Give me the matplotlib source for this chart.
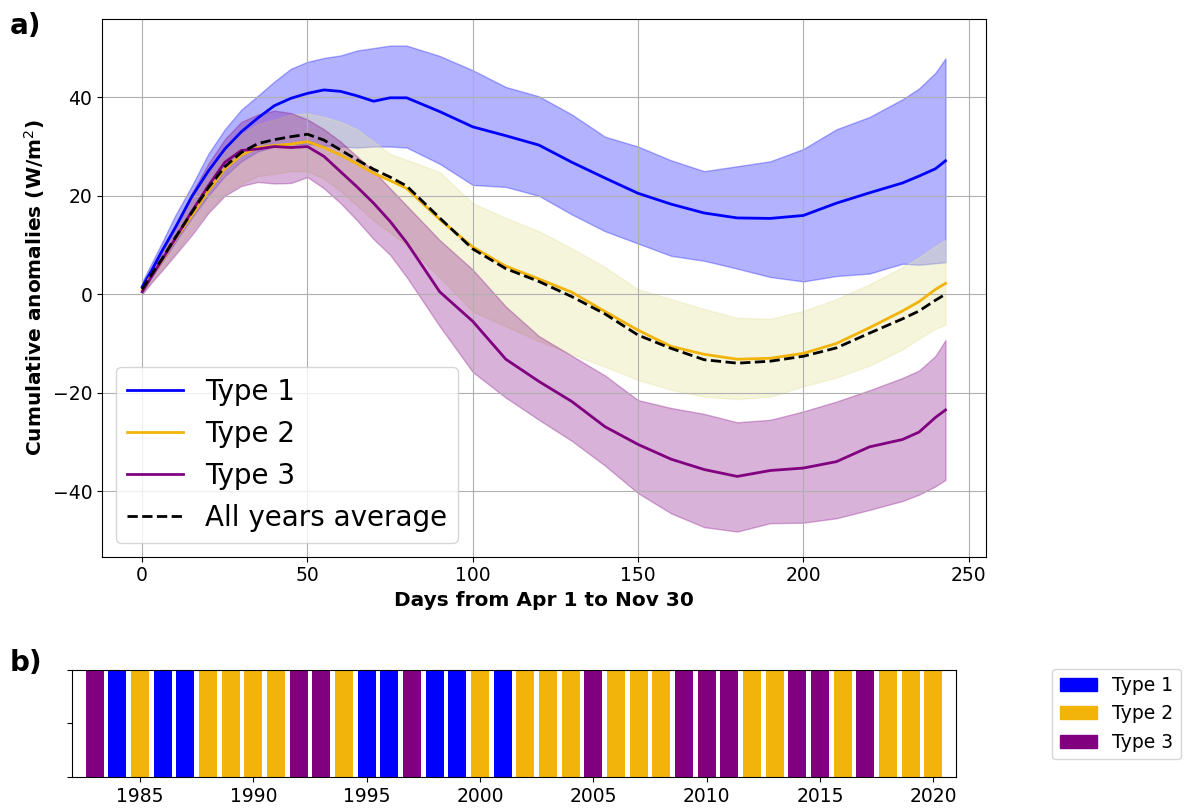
import matplotlib
matplotlib.use('Agg')
import matplotlib.pyplot as plt
from matplotlib.patches import Patch

# sampled days (Apr 1 = day 0)
days = [0, 3, 6, 10, 15, 20, 25, 30, 35, 40, 45, 50, 55, 60, 65, 70, 75, 80, 90, 100,
        110, 120, 130, 140, 150, 160, 170, 180, 190, 200, 210, 220, 230, 235, 240, 243]

type1 = [1.5, 5.0, 8.8, 13.5, 19.8, 25.0, 29.5, 33.0, 35.8, 38.3, 39.8, 40.8, 41.5, 41.2, 40.3, 39.2, 39.9, 39.9, 37.1, 34.0,
         32.2, 30.3, 26.8, 23.6, 20.5, 18.3, 16.5, 15.5, 15.4, 16.0, 18.5, 20.6, 22.6, 24.0, 25.5, 27.1]
type1_hi = [2.5, 6.5, 10.5, 16.0, 22.0, 28.5, 33.5, 37.5, 40.3, 43.2, 45.8, 47.2, 48.0, 48.5, 49.5, 50.0, 50.5, 50.5, 48.4, 45.5,
            42.1, 40.2, 36.5, 32.0, 30.0, 27.2, 25.0, 26.0, 27.0, 29.5, 33.5, 36.0, 39.6, 41.8, 45.0, 47.9]
type1_lo = [0.5, 3.5, 6.5, 10.5, 15.5, 20.0, 24.0, 27.0, 29.0, 30.0, 30.5, 30.5, 30.2, 30.0, 29.8, 30.0, 30.0, 29.8, 26.5, 22.2,
            21.8, 20.0, 16.2, 12.8, 10.3, 7.8, 6.8, 5.2, 3.5, 2.6, 3.7, 4.2, 6.2, 6.0, 6.3, 6.5]

type2 = [0.9, 4.0, 6.8, 11.2, 16.0, 21.0, 25.5, 28.3, 29.8, 30.2, 30.5, 31.0, 29.8, 28.3, 26.5, 24.6, 23.1, 21.5, 15.2, 9.6,
         5.7, 3.1, 0.4, -3.5, -7.3, -10.6, -12.2, -13.2, -13.0, -12.0, -10.0, -6.8, -3.4, -1.5, 1.0, 2.2]
type2_hi = [1.8, 5.5, 8.8, 13.5, 19.5, 25.0, 29.5, 32.5, 34.5, 35.5, 36.5, 36.7, 36.0, 35.0, 33.5, 31.0, 28.5, 27.3, 24.8, 18.5,
            15.5, 12.8, 9.3, 5.5, 1.0, -1.0, -3.0, -4.8, -5.0, -3.4, -1.0, 2.0, 5.5, 7.5, 9.8, 11.0]
type2_lo = [0.2, 2.8, 5.3, 8.5, 12.8, 17.0, 20.5, 22.5, 24.0, 24.5, 25.0, 25.0, 23.5, 21.0, 18.0, 15.0, 12.5, 10.0, 3.5, -3.5,
            -6.5, -9.5, -12.2, -14.7, -17.4, -19.4, -20.8, -21.3, -20.8, -18.7, -16.9, -14.5, -11.2, -9.0, -7.0, -6.2]

type3 = [0.5, 3.8, 7.0, 11.3, 16.8, 22.0, 26.8, 29.2, 29.5, 30.0, 29.8, 30.0, 28.0, 24.9, 21.8, 18.5, 14.8, 10.5, 0.5, -5.5,
         -13.2, -17.7, -21.8, -26.9, -30.5, -33.5, -35.6, -37.0, -35.8, -35.3, -34.0, -31.0, -29.5, -28.0, -25.0, -23.5]
type3_hi = [1.2, 5.0, 8.8, 14.0, 20.5, 26.5, 31.5, 35.0, 36.5, 37.3, 36.8, 35.5, 33.5, 31.0, 28.0, 25.0, 21.5, 18.0, 11.0, 5.0,
            -2.5, -8.5, -12.5, -16.5, -21.5, -23.1, -24.3, -26.0, -25.5, -23.8, -21.8, -19.5, -17.0, -15.5, -12.5, -9.3]
type3_lo = [0.0, 2.5, 4.8, 8.0, 12.0, 16.5, 20.0, 22.0, 22.8, 22.5, 22.6, 23.8, 21.5, 18.5, 15.0, 11.2, 8.0, 3.5, -6.5, -15.8,
            -21.0, -25.5, -29.8, -34.8, -40.4, -44.5, -47.3, -48.2, -46.5, -46.4, -45.5, -43.8, -42.0, -40.7, -39.0, -37.7]

all_avg = [1.0, 4.2, 7.2, 11.5, 16.6, 21.6, 25.9, 28.8, 30.6, 31.4, 32.0, 32.5, 31.3, 29.3, 27.3, 25.4, 23.8, 22.0, 15.5, 9.2,
           5.2, 2.6, -0.5, -4.0, -8.3, -11.0, -13.3, -14.0, -13.6, -12.6, -10.9, -7.9, -5.0, -3.4, -1.2, 0.0]

# year classification (panel b)
years = list(range(1983, 2021))
year_type = [3, 1, 2, 1, 1, 2, 2, 2, 2, 3, 3, 2, 1, 1, 3, 1, 1, 2, 1, 2,
             2, 2, 3, 2, 2, 2, 3, 3, 3, 2, 2, 3, 3, 2, 3, 2, 2, 2]

c1, c2, c3 = '#0000ff', '#f2b40a', '#800080'
type_colors = {1: c1, 2: c2, 3: c3}

fig = plt.figure(figsize=(11.93, 8.09), dpi=100)

# panel a
ax = fig.add_axes([0.0855, 0.3119, 0.7407, 0.6646])
ax.fill_between(days, type1_lo, type1_hi, color=c1, alpha=0.3)
ax.fill_between(days, type2_lo, type2_hi, color='#e6e6a8', alpha=0.4)
ax.fill_between(days, type3_lo, type3_hi, color=c3, alpha=0.3)
ax.plot(days, type1, color=c1, lw=2, label='Type 1')
ax.plot(days, type2, color=c2, lw=2, label='Type 2')
ax.plot(days, type3, color=c3, lw=2, label='Type 3')
ax.plot(days, all_avg, 'k--', lw=2, label='All years average')
ax.set_xlim(-12.15, 255.15)
ax.set_ylim(-53.3, 55.9)
ax.set_xticks([0, 50, 100, 150, 200, 250])
ax.set_yticks([-40, -20, 0, 20, 40])
ax.tick_params(labelsize=13.5)
ax.grid(True)
ax.set_xlabel('Days from Apr 1 to Nov 30', fontsize=14.5, fontweight='bold')
ax.set_ylabel('Cumulative anomalies (W/m$^2$)', fontsize=14.5, fontweight='bold')
ax.legend(loc='lower left', fontsize=20)

# panel b
bx = fig.add_axes([0.0604, 0.0396, 0.741, 0.1323])
bx.bar(years, [1] * len(years), width=0.8, color=[type_colors[t] for t in year_type])
bx.set_xlim(1982, 2021)
bx.set_ylim(0, 1)
bx.set_yticks([0, 0.5, 1])
bx.set_yticklabels([])
bx.set_xticks([1985, 1990, 1995, 2000, 2005, 2010, 2015, 2020])
bx.tick_params(labelsize=13.5)
handles = [Patch(color=c1, label='Type 1'), Patch(color=c2, label='Type 2'), Patch(color=c3, label='Type 3')]
bx.legend(handles=handles, loc='upper left', bbox_to_anchor=(1.098, 1.1), fontsize=13.5)

fig.text(0.008, 0.985, 'a)', fontsize=20, fontweight='bold', va='top')
fig.text(0.008, 0.198, 'b)', fontsize=20, fontweight='bold', va='top')

fig.savefig('out.png', dpi=100)
